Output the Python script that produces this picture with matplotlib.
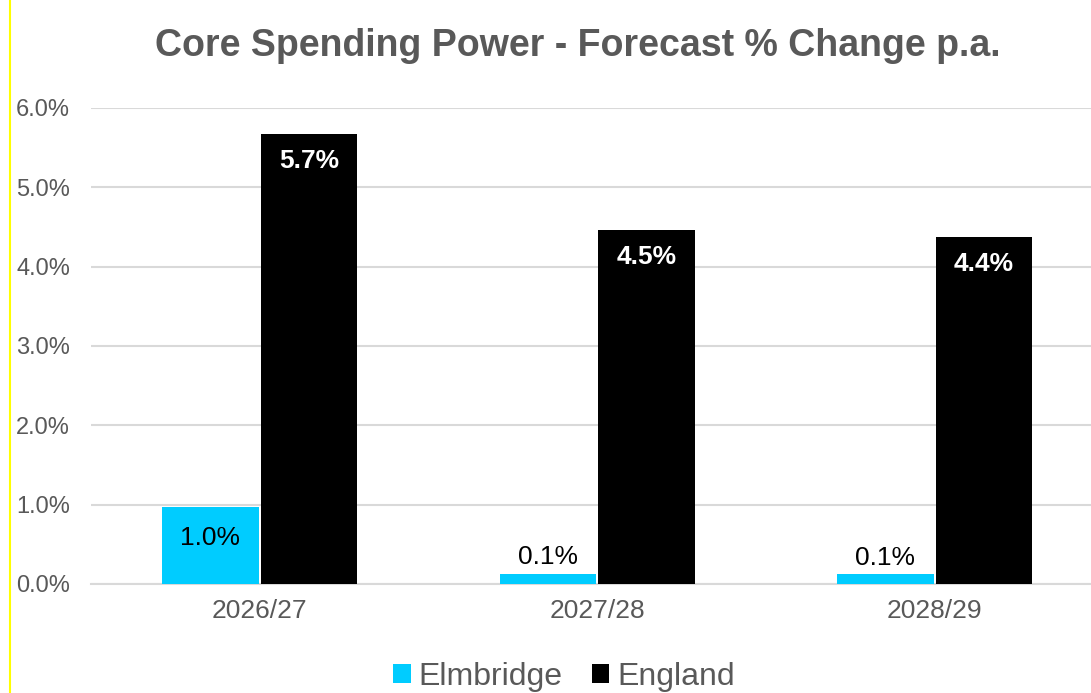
import numpy as np
import matplotlib
matplotlib.use("Agg")
import matplotlib.pyplot as plt
from matplotlib.lines import Line2D

plt.rcParams['font.family'] = ['Liberation Sans', 'DejaVu Sans']

years = ["2026/27", "2027/28", "2028/29"]
elmbridge = [0.97, 0.13, 0.12]
england = [5.67, 4.46, 4.37]
yticks = [0, 1, 2, 3, 4, 5, 6]

grey = '#595959'
fig = plt.figure(figsize=(10.91, 6.93), dpi=100)
ax = fig.add_axes([91 / 1091, 109 / 693, 1012.5 / 1091, 476 / 693])

x = np.arange(len(years))
w = 0.287
b1 = ax.bar(x - 0.146, elmbridge, w, color='#00CCFF', label='Elmbridge', zorder=3)
b2 = ax.bar(x + 0.146, england, w, color='#000000', label='England', zorder=3)

for rect, v in zip(b1, elmbridge):
    cx = rect.get_x() + rect.get_width() / 2
    if v > 0.5:
        ax.annotate(f"{v:.1f}%", (cx, v), xytext=(0, -22), textcoords='offset points',
                    ha='center', va='center', fontsize=19, color='black')
    else:
        ax.annotate(f"{v:.1f}%", (cx, v), xytext=(0, 12), textcoords='offset points',
                    ha='center', va='center', fontsize=19, color='black')
for rect, v in zip(b2, england):
    cx = rect.get_x() + rect.get_width() / 2
    ax.annotate(f"{v:.1f}%", (cx, v), xytext=(0, -19), textcoords='offset points',
                ha='center', va='center', fontsize=19, color='white', fontweight='bold')

ax.set_xlim(-0.5, 2.5)
ax.set_ylim(0, 6)
ax.set_yticks(yticks)
ax.set_yticklabels([f"{t:.1f}%" for t in yticks])
ax.set_xticks(x)
ax.set_xticklabels(years)
ax.tick_params(axis='y', length=0, pad=15, labelsize=17, labelcolor=grey)
ax.tick_params(axis='x', length=0, pad=11, labelsize=19, labelcolor=grey)
ax.yaxis.grid(True, color='#d9d9d9', linewidth=1.5, zorder=0)
ax.set_axisbelow(True)
for s in ['top', 'right', 'left']:
    ax.spines[s].set_visible(False)
ax.spines['bottom'].set_color('#d9d9d9')
ax.spines['bottom'].set_linewidth(1.5)

fig.text(0.530, 1 - 46 / 693, "Core Spending Power - Forecast % Change p.a.",
         ha='center', va='center', fontsize=27, fontweight='bold', color=grey)

fig.legend(loc='center', bbox_to_anchor=(0.517, 1 - 677 / 693), ncol=2, frameon=False,
           fontsize=23, labelcolor=grey, handlelength=0.55, handleheight=0.55,
           handletextpad=0.25, columnspacing=0.9)

fig.add_artist(Line2D([10 / 1091, 10 / 1091], [0, 1], color='#FFFF00', linewidth=1.5))

fig.savefig("out.png", dpi=100)
